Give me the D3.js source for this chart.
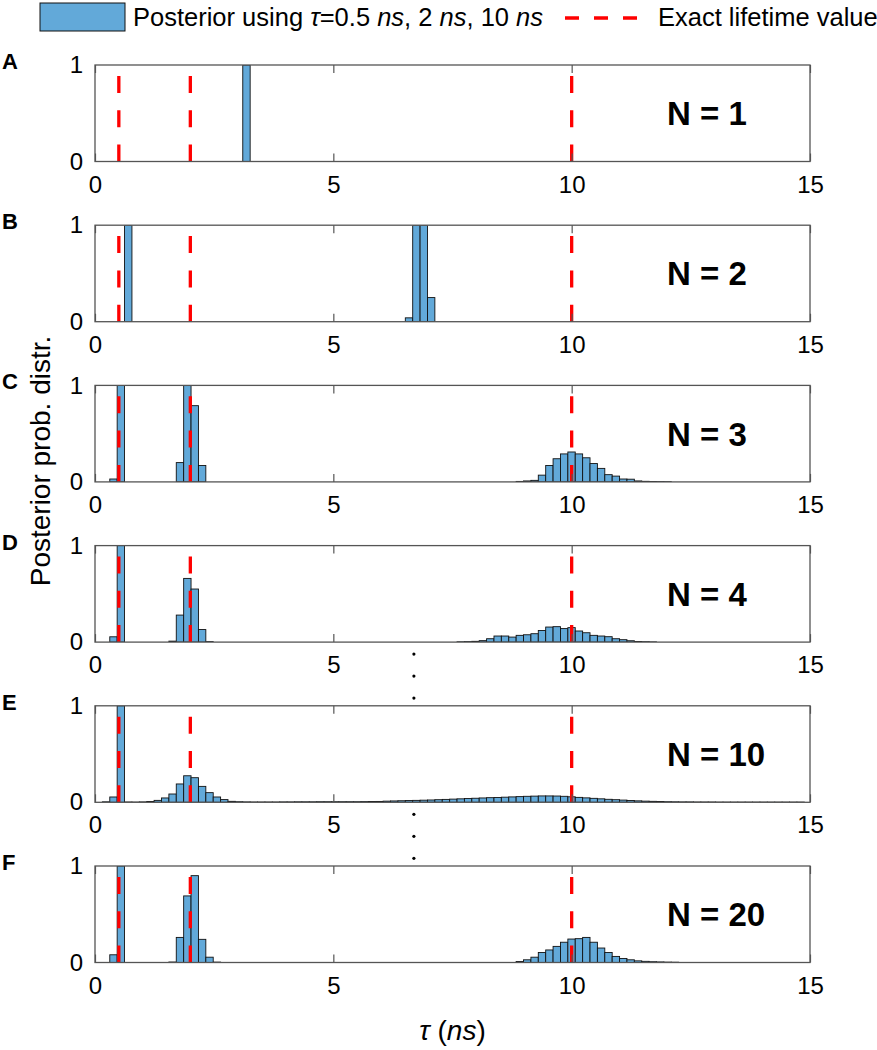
<!DOCTYPE html>
<html>
<head>
<meta charset="utf-8">
<script src="https://cdn.jsdelivr.net/npm/d3@7"></script>
<style>
  html, body { margin: 0; padding: 0; background: #fff; }
  svg { display: block; }
  text { font-family: "Liberation Sans", Arial, Helvetica, sans-serif; fill: #000; }
</style>
</head>
<body>
<svg id="chart" width="877" height="1050"></svg>
<script>
// ---------------- data ----------------
const xTicks = [0, 5, 10, 15];
const yTicks = [0, 1];
const exactLifetimes = [0.5, 2, 10];            // ns
const panelLetters = ["A", "B", "C", "D", "E", "F"];
const photonCounts = [1, 2, 3, 4, 10, 20];
const binWidth = 0.155;                          // ns

// [bin left edge (ns), posterior probability]
const binsA = [[3.100, 1.0]];
const binsB = [[0.620, 1.0], [6.510, 0.04], [6.665, 1.0], [6.820, 1.0], [6.975, 0.25]];
const binsC = [[0.310, 0.03], [0.465, 1.0], [1.705, 0.20], [1.860, 1.0], [2.015, 0.79], [2.170, 0.17],
  [8.835, 0.005], [8.990, 0.01], [9.145, 0.016], [9.300, 0.07], [9.455, 0.17], [9.610, 0.24],
  [9.765, 0.29], [9.920, 0.31], [10.075, 0.29], [10.230, 0.25], [10.385, 0.19], [10.540, 0.14],
  [10.695, 0.075], [10.850, 0.06], [11.005, 0.03], [11.160, 0.028], [11.315, 0.01], [11.470, 0.006],
  [11.625, 0.004], [11.780, 0.003], [11.935, 0.002]];
const binsD = [[0.310, 0.055], [0.465, 1.0], [1.550, 0.01], [1.705, 0.28], [1.860, 0.66], [2.015, 0.55],
  [2.170, 0.13], [2.325, 0.005],
  [7.595, 0.003], [7.750, 0.005], [7.905, 0.008], [8.060, 0.015], [8.215, 0.035], [8.370, 0.063],
  [8.525, 0.063], [8.680, 0.052], [8.835, 0.07], [8.990, 0.076], [9.145, 0.087], [9.300, 0.12],
  [9.455, 0.156], [9.610, 0.16], [9.765, 0.14], [9.920, 0.15], [10.075, 0.115], [10.230, 0.097],
  [10.385, 0.07], [10.540, 0.063], [10.695, 0.056], [10.850, 0.035], [11.005, 0.025], [11.160, 0.014],
  [11.315, 0.006], [11.470, 0.004], [11.625, 0.002]];
const binsE = [[0.155, 0.005], [0.310, 0.055], [0.465, 1.0], [0.620, 0.003], [0.775, 0.002], [0.930, 0.004],
  [1.085, 0.008], [1.240, 0.02], [1.395, 0.045], [1.550, 0.086], [1.705, 0.19], [1.860, 0.275],
  [2.015, 0.255], [2.170, 0.165], [2.325, 0.10], [2.480, 0.055], [2.635, 0.028], [2.790, 0.01],
  [2.945, 0.006], [3.100, 0.004], [3.255, 0.003], [3.410, 0.003], [3.565, 0.003], [3.720, 0.003],
  [3.875, 0.004], [4.030, 0.004], [4.185, 0.005], [4.340, 0.005], [4.495, 0.005], [4.650, 0.006],
  [4.805, 0.006], [4.960, 0.006], [5.115, 0.006], [5.270, 0.006], [5.425, 0.006], [5.580, 0.007],
  [5.735, 0.008], [5.890, 0.009], [6.045, 0.012], [6.200, 0.014], [6.355, 0.016], [6.510, 0.018],
  [6.665, 0.02], [6.820, 0.022], [6.975, 0.024], [7.130, 0.027], [7.285, 0.03], [7.440, 0.033],
  [7.595, 0.036], [7.750, 0.039], [7.905, 0.042], [8.060, 0.045], [8.215, 0.048], [8.370, 0.05],
  [8.525, 0.053], [8.680, 0.056], [8.835, 0.059], [8.990, 0.062], [9.145, 0.064], [9.300, 0.066],
  [9.455, 0.066], [9.610, 0.065], [9.765, 0.062], [9.920, 0.057], [10.075, 0.051], [10.230, 0.046],
  [10.385, 0.041], [10.540, 0.036], [10.695, 0.031], [10.850, 0.027], [11.005, 0.023], [11.160, 0.019],
  [11.315, 0.015], [11.470, 0.012], [11.625, 0.01], [11.780, 0.008], [11.935, 0.006], [12.090, 0.005],
  [12.245, 0.004], [12.400, 0.004], [12.555, 0.003], [12.710, 0.003], [12.865, 0.003], [13.020, 0.002],
  [13.175, 0.002], [13.330, 0.002], [13.485, 0.002], [13.640, 0.002], [13.795, 0.002], [13.950, 0.002],
  [14.105, 0.002], [14.260, 0.002], [14.415, 0.002], [14.570, 0.002], [14.725, 0.002]];
const binsF = [[0.310, 0.08], [0.465, 1.0], [1.550, 0.005], [1.705, 0.26], [1.860, 0.69], [2.015, 0.90],
  [2.170, 0.24], [2.325, 0.055], [2.480, 0.004],
  [8.835, 0.01], [8.990, 0.028], [9.145, 0.055], [9.300, 0.104], [9.455, 0.13], [9.610, 0.167],
  [9.765, 0.21], [9.920, 0.243], [10.075, 0.247], [10.230, 0.26], [10.385, 0.21], [10.540, 0.15],
  [10.695, 0.104], [10.850, 0.063], [11.005, 0.042], [11.160, 0.028], [11.315, 0.017], [11.470, 0.012],
  [11.625, 0.008], [11.780, 0.006], [11.935, 0.004], [12.090, 0.003]];
const panelBins = [binsA, binsB, binsC, binsD, binsE, binsF];

// ---------------- layout & style ----------------
const barFill = "#62a9d9";
const frameColor = "#555555";
const red = "#ff0000";
const left = 95, right = 810;
const firstTop = 65, panelStep = 160.2, panelH = 96.5;

const svg = d3.select("#chart");
const x = d3.scaleLinear().domain([0, 15]).range([left, right]);

panelBins.forEach((bins, i) => {
  const top = firstTop + i * panelStep;
  const bottom = top + panelH;
  const y = d3.scaleLinear().domain([0, 1]).range([bottom, top]);
  const g = svg.append("g");

  const clipId = "clip" + i;
  svg.append("clipPath").attr("id", clipId)
    .append("rect").attr("x", left).attr("y", top).attr("width", right - left).attr("height", panelH);

  // bars
  g.append("g").attr("clip-path", `url(#${clipId})`)
    .selectAll("rect").data(bins).join("rect")
    .attr("x", d => x(d[0]))
    .attr("width", d => x(d[0] + binWidth) - x(d[0]))
    .attr("y", d => y(Math.min(d[1], 1.02)))
    .attr("height", d => y(0) - y(Math.min(d[1], 1.02)))
    .attr("fill", barFill)
    .attr("stroke", "#111")
    .attr("stroke-width", 0.9);

  // exact lifetime lines (dashed, drawn from bottom)
  g.selectAll("line.exact").data(exactLifetimes).join("line")
    .attr("class", "exact")
    .attr("x1", d => x(d)).attr("x2", d => x(d))
    .attr("y1", y(0)).attr("y2", y(1))
    .attr("stroke", red).attr("stroke-width", 3.3)
    .attr("stroke-dasharray", "17,17.3");

  // bottom axis
  const xb = g.append("g").attr("transform", `translate(0,${bottom})`)
    .call(d3.axisBottom(x).tickValues(xTicks).tickSizeInner(-8).tickSizeOuter(0).tickPadding(14)
      .tickFormat(d3.format("d")));
  xb.select(".domain").remove();
  xb.selectAll("line").attr("stroke", frameColor).attr("stroke-width", 1.2);
  xb.selectAll("text").attr("font-size", 24).attr("fill", "#000");
  // top ticks
  const xt = g.append("g").attr("transform", `translate(0,${top})`)
    .call(d3.axisTop(x).tickValues(xTicks).tickSizeInner(-8).tickSizeOuter(0).tickFormat(""));
  xt.select(".domain").remove();
  xt.selectAll("line").attr("stroke", frameColor).attr("stroke-width", 1.2);
  // left axis
  const yl = g.append("g").attr("transform", `translate(${left},0)`)
    .call(d3.axisLeft(y).tickValues(yTicks).tickSizeInner(0).tickSizeOuter(0).tickPadding(12)
      .tickFormat(d3.format("d")));
  yl.select(".domain").remove();
  yl.selectAll("text").attr("font-size", 24).attr("fill", "#000");

  // frame
  g.append("rect").attr("x", left).attr("y", top)
    .attr("width", right - left).attr("height", panelH)
    .attr("fill", "none").attr("stroke", frameColor).attr("stroke-width", 1.3);

  // N label
  g.append("text").attr("x", x(12)).attr("y", y(0.5)).attr("dy", "0.36em")
    .attr("font-size", 33).attr("font-weight", "bold")
    .text("N = " + photonCounts[i]);

  // panel letter
  svg.append("text").attr("x", 2).attr("y", top + 4)
    .attr("font-size", 22).attr("font-weight", "bold")
    .text(panelLetters[i]);
});

// ellipsis dots between panels
[3, 4].forEach(p => {
  const yb = firstTop + p * panelStep + panelH;
  [12, 34, 56].forEach(off => {
    svg.append("circle").attr("cx", x(6.69)).attr("cy", yb + off).attr("r", 1.6).attr("fill", "#000");
  });
});

// y-axis label
svg.append("text")
  .attr("transform", `translate(50,${461}) rotate(-90)`)
  .attr("text-anchor", "middle")
  .attr("font-size", 28)
  .text("Posterior prob. distr.");

// x-axis label
const xl = svg.append("text").attr("x", (left + right) / 2).attr("y", 1040)
  .attr("text-anchor", "middle").attr("font-size", 28);
xl.append("tspan").attr("font-style", "italic").text("τ");
xl.append("tspan").text(" (");
xl.append("tspan").attr("font-style", "italic").text("ns");
xl.append("tspan").text(")");

// legend
const lg = svg.append("g");
lg.append("rect").attr("x", 40).attr("y", 3).attr("width", 85).attr("height", 28)
  .attr("fill", barFill).attr("stroke", "#111").attr("stroke-width", 1);
const lt = lg.append("text").attr("x", 133).attr("y", 26).attr("font-size", 25.5);
lt.append("tspan").text("Posterior using ");
lt.append("tspan").attr("font-style", "italic").text("τ");
lt.append("tspan").text("=0.5 ");
lt.append("tspan").attr("font-style", "italic").text("ns");
lt.append("tspan").text(", 2 ");
lt.append("tspan").attr("font-style", "italic").text("ns");
lt.append("tspan").text(", 10 ");
lt.append("tspan").attr("font-style", "italic").text("ns");
lg.append("line").attr("x1", 565).attr("x2", 638).attr("y1", 18).attr("y2", 18)
  .attr("stroke", red).attr("stroke-width", 3.5).attr("stroke-dasharray", "14,15");
lg.append("text").attr("x", 658).attr("y", 26).attr("font-size", 25.5).text("Exact lifetime value");
</script>
</body>
</html>
